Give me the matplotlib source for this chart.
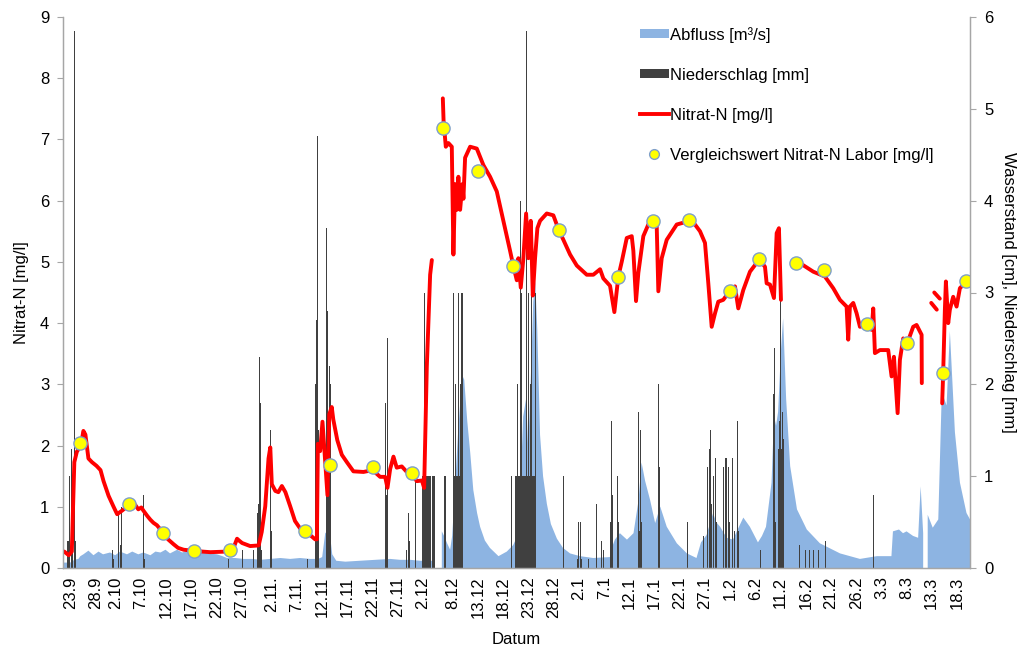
import numpy as np
import pandas as pd
import matplotlib
matplotlib.use("Agg")
import matplotlib.pyplot as plt
from matplotlib.patches import Patch
from matplotlib.lines import Line2D

plt.rcParams['font.family'] = ['Liberation Sans', 'DejaVu Sans']

nan = np.nan
START = pd.Timestamp("2014-09-23")  # Tag 0 der Messreihe

# Achsbeschriftung Datum
tick_labels = ["23.9", "28.9", "2.10", "7.10", "12.10", "17.10", "22.10", "27.10",
               "2.11.", "7.11.", "12.11", "17.11", "22.11", "27.11", "2.12", "8.12",
               "13.12", "18.12", "23.12", "28.12", "2.1", "7.1", "12.1", "17.1",
               "22.1", "27.1", "1.2", "6.2", "11.2", "16.2", "21.2", "26.2",
               "3.3", "8.3", "13.3", "18.3"]

# Nitrat-N Sonde [mg/l], Tage seit Start (nan = Messluecke)
nitrat_tag = [-1.2, -0.3, 0.3, 0.8, 1.3, 1.85, 2.2, 2.6, 3.0, 3.6, 4.3, 5.2, 6.0, 6.6,
              7.6, 8.6, 9.3, 10.3, 10.9, 11.6, 12.3, 12.9, 13.5, 14.1, 14.5, 15.3,
              15.9, 16.5, 17.2, 17.9, 18.5, 19.4, 20.5, 21.4, 22.5, 24.6, 27.8, 31.1,
              31.8, 32.5, 33.1, 33.5, 34.1, 35.7, 37.4, 38.0, 38.7, 39.35, 39.7, 40.0,
              40.7, 41.3, 42.0, 42.7, 43.65, 44.6, 45.6, 46.6, 47.6, 48.6, 48.95,
              49.15, 49.6, 50.06, 50.4, 51.05, 51.4, 51.9, 52.2, 53.0, 53.9, 54.9,
              56.2, 58.2, 60.0, 61.5, 62.5, 62.96, 63.5, 64.15, 64.8, 65.8, 66.8,
              67.8, 68.8, 69.8, 70.24, 70.77, 71.43, 71.77, nan,
              73.95, 74.1, 74.54, 75.06, 75.73, 76.05, 76.39, 76.73, 77.04, 77.38,
              77.84, 78.04, 78.37, 79.37, 80.69, 82.0, 83.33, 84.66, 85.97, 87.3,
              87.9, 88.63, 88.95, 89.42, 89.94, 90.48, 90.93, 91.41, 91.81, 92.26,
              92.72, 93.25, 94.58, 95.89, 96.96, 97.88, 99.21, 100.54, 102.52,
              103.83, 105.16, 105.81, 107.14, 108.0, 108.79, 109.46, 110.46, 111.45,
              111.77, 112.3, 112.76, 113.75, 114.74, 115.73, 116.4, 116.73, 117.4,
              118.39, 120.38, 121.69, 122.88, 124.0, 125.0, 125.99, 126.65, 127.32,
              127.98, 128.63, 129.62, 130.95, 131.94, 132.6, 133.59, 134.92, 136.77,
              137.9, 138.23, 138.89, 139.68, 140.22, 140.67, 141.07, nan,
              144.05, 144.84, 147.48, 149.8, 151.45, 152.78, 154.1, 154.42, 154.76,
              155.42, 156.09, 156.75, 158.08, 159.07, 159.39, 159.72, 160.71, 162.36,
              163.03, 163.5, 164.23, 164.68, 165.34, 166.13, 167.32, 167.99, 168.99,
              169.03, nan, 170.9, 172.0, nan, 171.5, 172.6, nan,
              173.07, 173.27, 173.61, 173.81, 174.27, 174.6, 175.26, 175.93, 176.59,
              177.92]
nitrat_wert = [0.27, 0.21, 0.27, 1.73, 1.90, 1.97, 2.05, 2.24, 2.18, 1.79, 1.73, 1.67, 1.60, 1.42,
               1.18, 1.00, 0.88, 0.94, 0.98, 1.04, 1.05, 1.03, 0.96, 0.99, 0.94, 0.85,
               0.79, 0.74, 0.70, 0.63, 0.58, 0.47, 0.39, 0.33, 0.30, 0.28, 0.26, 0.27,
               0.29, 0.35, 0.48, 0.45, 0.41, 0.36, 0.37, 0.59, 1.01, 1.79, 1.97, 1.37,
               1.26, 1.24, 1.34, 1.24, 1.01, 0.77, 0.65, 0.60, 0.54, 0.47, 0.47,
               2.03, 1.91, 2.39, 1.98, 1.19, 2.51, 2.63, 2.43, 2.09, 1.85, 1.73,
               1.58, 1.57, 1.60, 1.49, 1.49, 1.31, 1.62, 1.82, 1.64, 1.66, 1.57,
               1.52, 1.42, 1.43, 1.31, 3.29, 4.79, 5.03, nan,
               7.67, 7.30, 6.88, 6.94, 6.88, 5.12, 6.27, 5.85, 6.39, 5.85,
               6.27, 6.03, 6.70, 6.88, 6.85, 6.58, 6.39, 6.15, 5.67, 5.18,
               4.95, 4.70, 5.06, 4.58, 5.06, 5.79, 5.06, 5.67, 4.45, 5.06,
               5.55, 5.67, 5.79, 5.76, 5.52, 5.36, 5.12, 4.94, 4.79,
               4.79, 4.88, 4.73, 4.61, 4.18, 4.76, 5.00, 5.39, 5.42,
               5.18, 4.36, 4.82, 5.42, 5.61, 5.67, 5.61, 4.52, 5.06,
               5.36, 5.61, 5.64, 5.68, 5.61, 5.50, 5.31, 4.65, 3.94,
               4.16, 4.35, 4.38, 4.53, 4.60, 4.24, 4.54, 4.84, 5.04,
               4.92, 4.65, 4.63, 4.41, 5.47, 5.55, 4.38, nan,
               5.04, 4.98, 4.84, 4.76, 4.57, 4.38, 4.27, 3.73, 4.27,
               4.33, 4.16, 3.94, 3.97, 3.89, 4.24, 3.51, 3.56, 3.56,
               3.13, 3.45, 2.53, 3.40, 3.75, 3.67, 3.94, 3.97, 3.81,
               3.02, nan, 4.33, 4.22, nan, 4.50, 4.40, nan,
               2.69, 3.18, 4.22, 4.68, 4.00, 4.22, 4.43, 4.27, 4.57,
               4.68]

# Laborwerte Nitrat-N [mg/l]
labor_tag = [1.85, 11.6, 18.5, 24.6, 31.8, 46.6, 51.6, 60.0, 67.8, 73.9, 80.9, 87.8,
             97.0, 108.8, 115.7, 122.9, 131.0, 136.8, 144.0, 149.7, 158.2, 166.1,
             173.3, 177.9]
labor_wert = [2.04, 1.05, 0.58, 0.285, 0.29, 0.60, 1.68, 1.65, 1.55, 7.18, 6.48, 4.94,
              5.52, 4.76, 5.67, 5.68, 4.53, 5.04, 4.98, 4.87, 3.98, 3.67,
              3.19, 4.68]

# Abfluss [m3/s]
abfluss_tag = [-1.4, 0.0, 0.8, 1.6, 2.0, 2.6, 3.6, 4.6, 5.6, 6.5, 7.9, 8.9, 9.9, 11.25,
               12.3, 13.5, 14.5, 15.9, 16.9, 17.9, 18.9, 19.8, 21.2, 22.2, 23.4, 24.6,
               25.8, 27.4, 29.1, 30.2, 31.1, 32.7, 34.4, 36.1, 37.7, 39.7, 41.7, 43.65,
               45.6, 47.6, 49.2, 50.0, 50.6, 51.0, 51.6, 52.0, 52.8, 54.6, 57.5, 60.5,
               63.5, 65.5, 67.5, 69.4, 72.2, 72.6, 73.75, 74.2, 74.8, 75.4, 75.8,
               76.2, 77.0, 77.8, 78.2, 78.8, 79.4, 80.0, 80.75, 81.35, 82.3, 83.3,
               85.0, 86.65, 87.9, 88.6, 89.3, 89.9, 90.5, 90.9, 91.5, 91.9, 92.3,
               92.7, 93.25, 93.85, 94.6, 95.4, 96.6, 97.8, 99.2, 101.2, 103.8, 107.1,
               107.7, 108.1, 109.1, 110.5, 111.8, 112.8, 113.4, 114.1, 115.1, 116.1,
               117.1, 118.4, 120.4, 122.4, 124.3, 125.2, 126.3, 127.6, 128.2, 129.0,
               130.3, 131.55, 132.3, 133.6, 134.9, 136.5, 137.3, 138.1, 139.2, 139.7,
               140.1, 140.5, 141.1, 141.5, 142.1, 142.9, 144.25, 146.2, 148.8, 152.8,
               156.75, 160.1, 163.0, 163.3, 164.5, 165.3, 166.0, 167.3, 168.3, 168.8,
               169.3, 169.8, 170.2, 171.2, 172.3, 173.0, 173.95, 174.6, 175.6, 176.6,
               177.9, 178.6]
abfluss_wert = [0.06, 0.06, 0.09, 0.10, 0.13, 0.15, 0.19, 0.14, 0.18, 0.15, 0.17, 0.14, 0.18, 0.15,
                0.18, 0.15, 0.17, 0.14, 0.18, 0.17, 0.20, 0.16, 0.20, 0.17, 0.19, 0.16,
                0.18, 0.16, 0.15, 0.13, 0.11, 0.11, 0.10, 0.10, 0.09, 0.10, 0.11, 0.10,
                0.11, 0.10, 0.10, 0.12, 0.38, 0.40, 0.34, 0.15, 0.08, 0.07, 0.08, 0.09,
                0.10, 0.09, 0.09, 0.08, 0.08, nan, 0.40, 0.35, 0.27, 0.20, 0.35,
                0.70, 1.50, 2.10, 2.05, 1.60, 1.25, 0.85, 0.60, 0.45, 0.30, 0.22,
                0.13, 0.18, 0.25, 0.33, 0.80, 1.65, 1.85, 1.30, 2.20, 2.90, 3.12,
                2.60, 1.45, 1.00, 0.70, 0.48, 0.32, 0.22, 0.16, 0.13, 0.11, 0.12,
                0.25, 0.31, 0.38, 0.31, 0.38, 0.74, 1.15, 0.95, 0.74, 0.49,
                0.67, 0.45, 0.27, 0.16, 0.11, 0.28, 0.36, 0.60, 0.50, 0.45,
                0.33, 0.31, 0.40, 0.55, 0.45, 0.28, 0.35, 0.45, 0.93, 1.66,
                1.55, 1.70, 2.40, 2.72, 1.84, 1.11, 0.64, 0.42, 0.27, 0.16,
                0.10, 0.13, 0.13, 0.40, 0.42, 0.38, 0.40, 0.35, 0.33, 0.89,
                0.38, nan, 0.58, 0.44, 0.53, 1.92, 1.77, 2.58, 1.48, 0.93,
                0.60, 0.53]

# Niederschlag [mm], einzelne Ereignisse
regen_tag = [-0.6, -0.4, -0.1, 0.2, 0.4, 0.8, 1.0, 8.4, 8.6, 9.6, 9.9, 10.2, 14.6, 14.8,
             31.4, 31.7, 32.1, 34.1, 36.4, 37.2, 37.4, 37.6, 37.8, 38.0, 39.8, 40.0,
             46.0, 47.0, 48.6, 48.8, 49.1, 49.3, 50.9, 51.1, 51.3, 51.4, 51.6, 57.9,
             62.5, 62.8, 63.0, 66.8, 67.1, 67.3, 68.5, 68.6, 70.1, 70.3, 70.6, 70.8,
             71.0, 71.2, 71.4, 71.8, 72.0, 72.2, 74.2, 74.5, 76.1, 76.4, 76.6, 76.8,
             77.0, 77.4, 77.6, 77.8, 84.7, 85.7, 87.6, 88.5, 88.7, 89.4, 89.6, 89.9,
             90.1, 90.6, 90.9, 91.3, 91.6, 91.9, 92.3, 97.9, 98.2, 100.7, 100.9,
             101.2, 101.5, 102.8, 104.5, 105.4, 105.8, 107.3, 107.5, 107.7, 108.7,
             108.9, 110.9, 111.1, 111.5, 111.9, 112.1, 112.3, 112.8, 113.0, 113.1,
             113.4, 116.7, 116.9, 122.5, 125.4, 125.7, 126.0, 126.4, 126.5, 126.8,
             127.0, 127.3, 127.6, 128.0, 128.2, 129.6, 130.0, 130.3, 130.6, 130.9,
             131.5, 131.8, 132.5, 132.6, 137.0, 137.7, 137.9, 138.3, 139.5, 139.7,
             139.9, 140.5, 140.7, 141.0, 141.3, 141.6, 144.8, 146.0, 146.8, 147.6,
             148.5, 149.9, 151.0, 159.5]
regen_mm = [0.3, 0.3, 1.0, 1.3, 0.3, 5.85, 0.3, 0.2, 0.1, 0.6, 0.25, 0.67, 0.8, 0.1,
            0.1, 0.1, 0.1, 0.2, 0.2, 0.6, 0.7, 2.3, 1.8, 0.2, 1.5, 0.4,
            0.6, 0.1, 2.0, 2.7, 4.7, 1.5, 3.7, 2.8, 0.8, 2.2, 2.0, 0.15,
            1.8, 0.8, 2.5, 0.2, 0.6, 0.3, 1.0, 0.5, 1.0, 3.0, 1.0, 4.0,
            1.0, 1.0, 5.0, 5.65, 4.0, 1.0, 1.0, 1.0, 3.0, 2.0, 1.0, 1.0,
            3.0, 2.0, 3.0, 3.0, 2.0, 1.0, 1.0, 1.0, 2.0, 4.0, 3.0, 1.0,
            1.0, 5.85, 3.0, 2.0, 3.0, 1.0, 3.0, 1.0, 1.0, 0.1, 0.5,
            0.5, 0.1, 0.1, 0.7, 0.3, 0.2, 0.5, 1.6, 0.8, 1.0,
            0.5, 0.2, 0.35, 0.2, 0.45, 2.7, 1.7, 1.7, 0.4, 1.5,
            0.5, 2.0, 1.1, 0.5, 0.2, 0.35, 0.35, 0.5, 1.1, 1.3,
            1.5, 0.7, 1.0, 1.2, 0.5, 1.1, 1.2, 1.2, 1.1, 0.5,
            1.2, 0.4, 1.6, 0.4, 0.2, 1.6, 0.8, 0.2, 1.9, 2.4,
            0.5, 1.3, 1.6, 3.0, 1.7, 1.4, 0.25, 0.2, 0.2, 0.2,
            0.2, 0.3, 0.2, 0.8]

# Niederschlag [mm], dichte Stundenwerte in den Regenphasen
dauerregen_tag = [48.7, 48.9, 49.2, 50.8, 51.0, 51.2, 51.5, 51.7, 62.6, 62.9,
                  70.0, 70.2, 70.4, 70.5, 70.7, 70.9, 71.1, 71.3, 71.5, 71.6, 71.9,
                  72.1, 72.3, 76.0, 76.2, 76.5, 76.7, 76.9, 77.1, 77.3, 77.5, 77.7,
                  77.9, 88.4, 88.6, 88.8, 89.0, 89.2, 89.5, 89.7, 90.0, 90.2, 90.4,
                  90.7, 91.0, 91.1, 91.4, 91.7, 92.0, 92.2, 92.4, 140.6, 140.8,
                  141.1, 141.4]
dauerregen_mm = [1.0, 1.0, 1.0, 0.8, 0.8, 0.8, 0.8, 0.8, 0.8, 0.8,
                 1.0, 1.0, 1.0, 1.0, 1.0, 1.0, 1.0, 1.0, 1.0, 1.0, 1.0,
                 1.0, 1.0, 1.0, 1.0, 1.0, 1.0, 1.0, 1.0, 1.0, 1.0, 1.0,
                 1.0, 1.0, 1.0, 1.0, 1.0, 1.0, 1.0, 1.0, 1.0, 1.0, 1.0,
                 1.0, 1.0, 1.0, 1.0, 1.0, 1.0, 1.0, 1.0, 1.3, 1.3,
                 1.3, 1.3]


def tick_day(label):
    day, month = [int(p) for p in label.strip(".").split(".")]
    year = 2014 if month >= 9 else 2015
    return (pd.Timestamp(year=year, month=month, day=day) - START).days


tick_pos = [tick_day(t) for t in tick_labels]

fig = plt.figure(figsize=(10.2, 6.5), dpi=100)
ax = fig.add_axes([0.062, 0.126, 0.889, 0.848])
ax2 = ax.twinx()
ax.set_zorder(ax2.get_zorder() + 1)
ax.patch.set_visible(False)

blau = "#8DB4E2"
regen_farbe = "#404040"
ax2.fill_between(abfluss_tag, 0, abfluss_wert, color=blau, linewidth=0)
ax2.bar(regen_tag, regen_mm, width=0.18, color=regen_farbe, linewidth=0)
ax2.bar(dauerregen_tag, dauerregen_mm, width=0.18, color=regen_farbe, linewidth=0)

ax.plot(nitrat_tag, nitrat_wert, color="#FF0000", lw=2.8, solid_capstyle="round")
ax.plot(labor_tag, labor_wert, ls="none", marker="o", ms=9.5, mfc="#FFFF00",
        mec="#7F9FC9", mew=1.0)

ax.set_xlim(-1.4, 178.6)
ax.set_ylim(0, 9)
ax2.set_ylim(0, 6)
ax.set_yticks(range(0, 10))
ax2.set_yticks(range(0, 7))
ax.set_xticks(tick_pos)
ax.set_xticklabels(tick_labels, rotation=90)

axis_grey = "#A6A6A6"
for a in (ax, ax2):
    a.spines["top"].set_visible(False)
    for side in ("left", "right", "bottom"):
        a.spines[side].set_color(axis_grey)
        a.spines[side].set_linewidth(0.9)
ax.tick_params(axis="y", labelsize=12, color=axis_grey, length=4, pad=6)
ax2.tick_params(axis="y", labelsize=12, color=axis_grey, length=4, pad=6)
ax.tick_params(axis="x", labelsize=12, length=0, pad=6)

ax.set_ylabel("Nitrat-N [mg/l]", fontsize=12, labelpad=8)
ax2.set_ylabel("Wasserstand [cm], Niederschlag [mm]", fontsize=12,
               rotation=270, labelpad=16)
ax.set_xlabel("Datum", fontsize=12, labelpad=10)

handles = [Patch(facecolor=blau, edgecolor="none"),
           Patch(facecolor=regen_farbe, edgecolor="none"),
           Line2D([], [], color="#FF0000", lw=2.8),
           Line2D([], [], ls="none", marker="o", ms=7, mfc="#FFFF00", mec="#7F9FC9")]
names = ["Abfluss [m³/s]", "Niederschlag [mm]", "Nitrat-N [mg/l]",
         "Vergleichswert Nitrat-N Labor [mg/l]"]
fig.legend(handles, names, loc="upper left", bbox_to_anchor=(0.627, 0.959),
           frameon=False, fontsize=12, handlelength=1.75, handleheight=0.45,
           handletextpad=0.1, labelspacing=1.5, borderpad=0, borderaxespad=0)

fig.savefig("out.png", dpi=100)
